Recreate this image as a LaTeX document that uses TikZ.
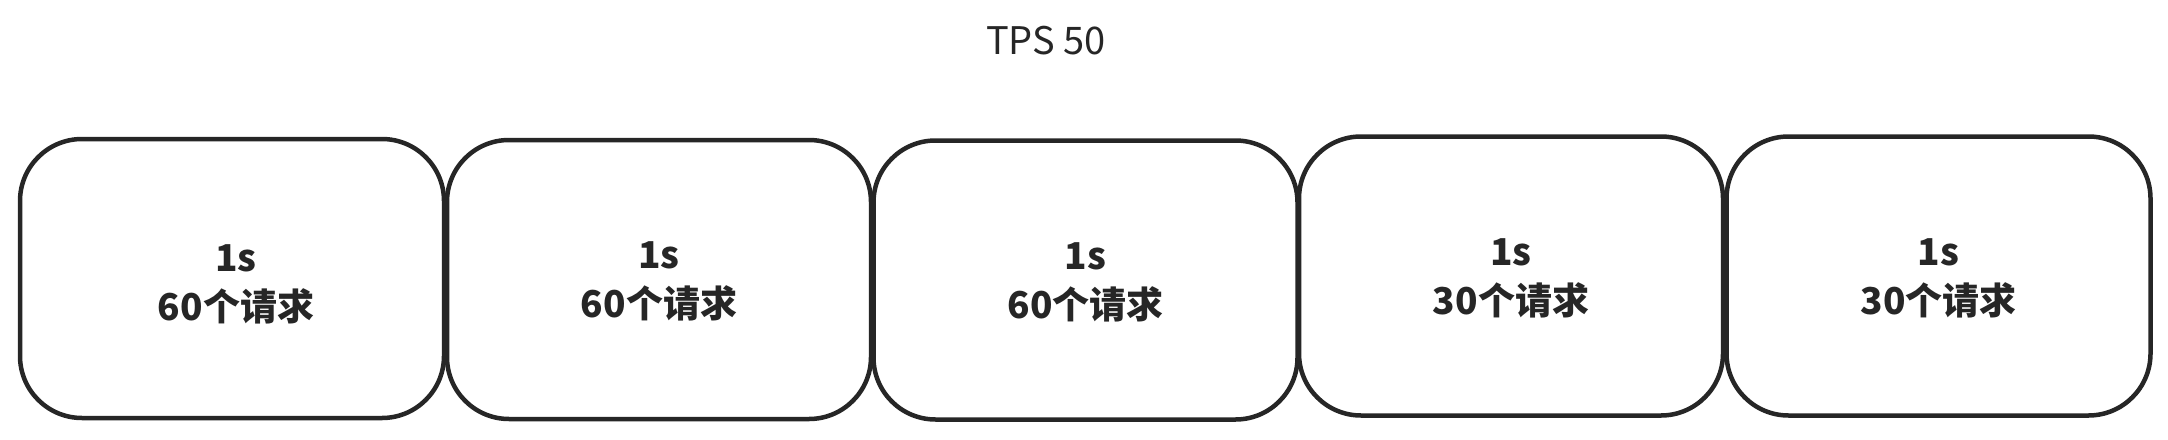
\documentclass[tikz,border=0pt]{standalone}
\usepackage{fontspec}
\setmainfont{Noto Sans CJK SC}
\begin{document}
\begin{tikzpicture}[x=1pt,y=-1pt,
  slot/.style={draw=black!85, line width=4.5pt, rounded corners=62pt, fill=white,
    minimum width=424pt, minimum height=279pt, inner sep=0pt},
  slottext/.style={align=center, inner sep=0pt,
    font=\fontsize{37}{49}\selectfont\bfseries, text=black!85},
  title/.style={font=\fontsize{38}{46}\selectfont, text=black!85, inner sep=0pt}]
\useasboundingbox (0,0) rectangle (2168,439);
\node[title] (tps) at (1046,41) {TPS 50};
\node[slot] (b1) at (232,278.5) {};
\node[slot] (b2) at (659,279.5) {};
\node[slot] (b3) at (1085.5,280) {};
\node[slot] (b4) at (1511,276) {};
\node[slot] (b5) at (1938.5,276) {};
\node[slottext] (t1) at ([xshift=4pt,yshift=-6pt]b1.center) {1s\\60个请求};
\node[slottext] (t2) at ([yshift=-2pt]b2.center) {1s\\60个请求};
\node[slottext] (t3) at ([yshift=-2pt]b3.center) {1s\\60个请求};
\node[slottext] (t4) at ([yshift=-2pt]b4.center) {1s\\30个请求};
\node[slottext] (t5) at ([yshift=-2pt]b5.center) {1s\\30个请求};
\end{tikzpicture}
\end{document}
